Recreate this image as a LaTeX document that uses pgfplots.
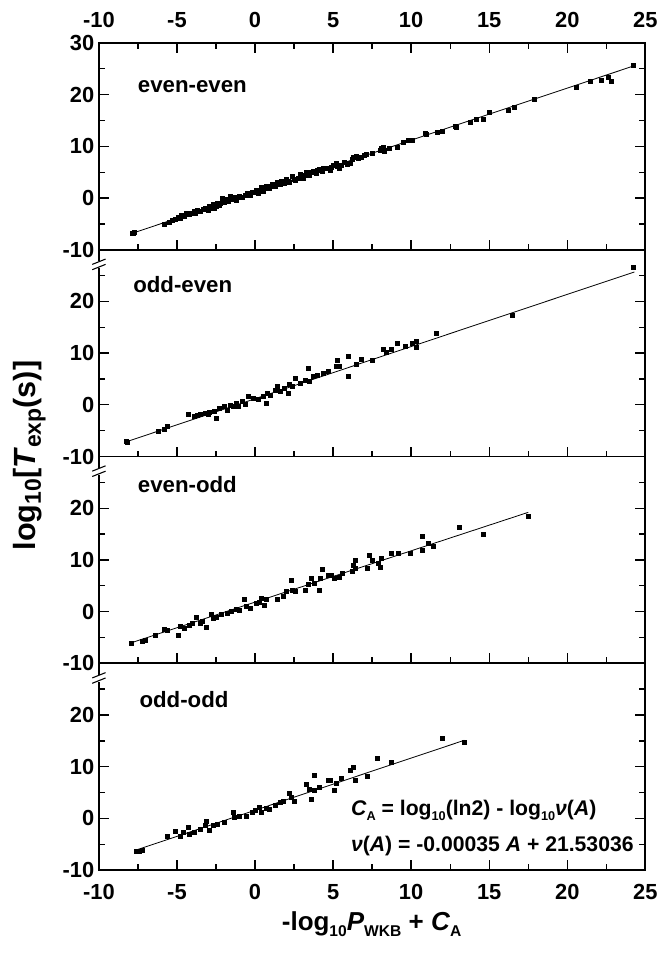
\documentclass[border=0pt]{standalone}
\usepackage{fontspec}
\setmainfont{Liberation Sans}
\usepackage{graphicx}
\usepackage{pgfplots}
\pgfplotsset{compat=1.18}
\newcommand\ticksfont{\fontsize{16.4}{18}\selectfont\bfseries}
\newcommand\panelfont{\fontsize{16.7}{18}\selectfont\bfseries}
\newcommand\sub[1]{\raisebox{-0.3ex}{\scalebox{0.75}{#1}}}
\newcommand\subs[1]{\raisebox{-0.45ex}{\scalebox{0.6}{#1}}}
\pgfplotsset{
  panel/.style={
    scale only axis, width=410.25pt, height=155.25pt,
    anchor=south west, clip=false,
    xmin=-10, xmax=25, ymin=-10, ymax=30,
    xtick={-10,-5,...,25}, minor xtick={-7.5,-2.5,2.5,7.5,12.5,17.5,22.5},
    ytick pos=both, yticklabel pos=left,
    axis line style={line width=1.3pt},
    major tick length=7.5pt, minor tick length=4.5pt,
    tick style={black, line width=1pt},
    tick label style={font=\ticksfont},
    /pgf/number format/assume math mode=true,
  },
  pts/.style={only marks, mark=square*, mark size=1.5pt, black},
  fit/.style={no marks, black, line width=0.6pt},
}
\newcommand\breakmark{%
  \draw[white, line width=3pt] ([yshift=-8.5pt]rel axis cs:0,1) -- ([yshift=-14pt]rel axis cs:0,1);
  \draw[black, line width=0.8pt] ([xshift=-5pt,yshift=-11pt]rel axis cs:0,1) -- ([xshift=5pt,yshift=-7pt]rel axis cs:0,1);
  \draw[black, line width=0.8pt] ([xshift=-5pt,yshift=-15pt]rel axis cs:0,1) -- ([xshift=5pt,yshift=-11pt]rel axis cs:0,1);
}
\begin{document}
\begin{tikzpicture}
% ---------- panel 1: even-even
\begin{axis}[panel, at={(0,465.75pt)},
  ytick={-10,0,10,20,30}, minor ytick={-5,5,15,25},
  xtick pos=both, xticklabel pos=upper,
  xticklabel style={yshift=8pt}]
\addplot[fit] coordinates {(-7.8,-6.75) (24.2,25.5)};
\addplot[pts] table {
x y
-7.8 -6.75
-7.75 -6.6
-7.85 -6.9
-5.8 -5.0
-5.5 -4.6
-5.3 -4.3
-5.1 -4.1
-4.9 -3.7
-4.8 -4.0
-4.7 -3.3
-4.5 -3.6
-4.4 -2.9
-4.2 -3.2
-4.1 -2.9
-3.9 -2.6
-3.8 -3.0
-3.7 -2.3
-3.5 -2.5
-3.3 -2.1
-3.2 -1.9
-3.0 -2.3
-2.9 -1.6
-2.8 -2.0
-2.7 -1.3
-2.6 -1.9
-2.5 -1.5
-2.4 -0.97
-2.3 -1.4
-2.2 -1.0
-2.1 0.0
-2.0 -0.8
-1.9 -0.4
-1.8 -0.3
-1.7 -0.7
-1.6 0.3
-1.5 -0.2
-1.4 0.1
-1.3 0.0
-1.2 -0.4
-1.1 0.1
-1.0 0.3
-0.8 0.2
-0.6 0.5
-0.5 1.0
-0.3 0.6
-0.2 1.2
0.0 1.1
0.1 1.6
0.2 1.0
0.3 1.5
0.4 2.0
0.5 1.4
0.6 1.8
0.7 2.2
0.9 1.8
1.0 2.3
1.1 2.6
1.3 2.2
1.4 3.0
1.5 2.7
1.6 2.6
1.7 3.2
1.9 2.9
2.0 3.6
2.1 3.3
2.2 3.1
2.4 4.2
2.5 3.7
2.6 3.5
2.8 3.9
2.9 4.6
3.1 3.9
3.2 4.4
3.3 5.0
3.5 4.5
3.6 4.9
3.7 5.2
3.9 4.8
4.0 5.3
4.1 5.6
4.3 5.2
4.4 5.7
4.6 5.8
4.8 5.4
4.9 6.0
5.0 6.3
5.2 6.8
5.3 6.2
5.4 5.8
5.5 6.3
5.7 7.0
5.9 6.6
6.1 6.8
6.2 7.5
6.3 7.8
6.5 8.0
6.6 7.6
6.8 7.8
7.0 8.2
7.1 8.5
7.5 8.7
8.0 9.3
8.1 9.7
8.2 9.9
8.3 9.1
8.6 9.7
9.1 9.9
9.5 10.7
9.8 11.1
10.1 11.2
10.9 12.6
11.0 12.4
11.7 12.8
12.0 13.0
12.8 13.8
12.9 13.6
13.8 14.7
14.2 15.3
14.6 15.3
15.0 16.5
16.2 17.0
16.6 17.6
17.9 19.2
20.6 21.5
21.5 22.6
22.2 22.8
22.6 23.4
22.8 22.6
24.2 25.7
};
\node[anchor=base west, font=\panelfont] at (axis cs:-7.8,20.5) {even-even};
\end{axis}
% ---------- panel 2: odd-even
\begin{axis}[panel, at={(0,310.5pt)},
  ytick={-10,0,10,20}, minor ytick={-5,5,15,25},
  xtick pos=lower, xticklabels={}]
\addplot[fit] coordinates {(-8.2,-7.1) (24.3,25.7)};
\addplot[pts] table {
x y
-8.23 -7.1
-8.2 -7.3
-6.2 -5.2
-5.8 -4.8
-5.6 -4.2
-4.3 -1.8
-3.9 -2.3
-3.7 -2.0
-3.5 -1.9
-3.2 -1.6
-3.0 -1.9
-2.9 -1.5
-2.6 -1.3
-2.5 -2.6
-2.3 -0.6
-2.0 -0.3
-1.8 -1.0
-1.6 0.0
-1.4 -0.3
-1.2 0.3
-1.1 -0.3
-0.8 0.6
-0.6 0.2
-0.45 1.6
-0.13 1.3
0.2 1.0
0.5 1.6
0.7 0.3
0.8 2.3
1.0 1.9
1.3 2.9
1.4 3.5
1.6 2.6
1.9 3.2
2.1 2.3
2.2 3.9
2.4 3.5
2.6 5.2
2.9 4.2
3.2 4.8
3.4 7.1
3.5 4.5
3.7 5.5
4.0 5.8
4.35 6.1
4.7 6.5
5.2 7.4
5.3 8.6
5.4 7.4
6.0 5.5
6.0 9.3
6.5 7.8
6.8 8.8
7.5 8.6
8.2 10.7
8.4 10.1
8.7 10.7
9.1 12.0
9.6 11.3
10.1 12.0
10.3 12.2
10.3 11.1
11.6 13.8
16.5 17.3
24.2 26.7
};
\node[anchor=base west, font=\panelfont] at (axis cs:-8.1,21.7) {odd-even};
\breakmark
\end{axis}
% ---------- panel 3: even-odd
\begin{axis}[panel, at={(0,155.25pt)},
  ytick={-10,0,10,20}, minor ytick={-5,5,15,25},
  xtick pos=lower, xticklabels={}]
\addplot[fit] coordinates {(-8.0,-6.1) (17.5,19.2)};
\addplot[pts] table {
x y
-7.95 -6.1
-7.2 -5.8
-7.0 -5.5
-6.4 -4.5
-5.8 -3.5
-5.6 -3.7
-4.9 -4.5
-4.8 -2.9
-4.5 -3.2
-4.2 -2.6
-4.0 -2.3
-3.75 -1.0
-3.5 -2.3
-3.4 -1.9
-3.1 -3.0
-2.8 -0.6
-2.7 -1.3
-2.5 -1.0
-2.15 -0.6
-1.8 -0.3
-1.5 0.0
-1.2 0.45
-1.0 0.3
-0.7 2.3
-0.55 1.0
-0.3 0.65
0.1 1.6
0.3 1.9
0.4 2.6
0.6 1.3
0.7 2.3
1.4 2.4
1.8 2.9
2.0 3.9
2.3 6.1
2.4 4.2
2.6 3.9
3.2 4.2
3.4 5.2
3.6 6.5
3.8 5.5
4.1 4.2
4.2 6.5
4.3 8.1
4.7 7.1
4.9 7.0
5.1 6.4
5.4 6.6
5.6 7.4
6.2 7.8
6.3 9.0
6.4 9.9
6.4 8.4
7.2 8.4
7.3 10.9
7.5 9.9
7.9 9.3
8.0 8.6
8.1 10.3
8.7 11.3
9.2 11.3
9.95 11.3
10.7 11.9
10.7 14.6
11.1 13.2
11.4 12.6
13.1 16.3
14.6 14.95
17.5 18.4
};
\node[anchor=base west, font=\panelfont] at (axis cs:-7.8,23.0) {even-odd};
\breakmark
\end{axis}
% ---------- panel 4: odd-odd
\begin{axis}[panel, at={(0,0)},
  ytick={-10,0,10,20}, minor ytick={-5,5,15,25},
  xtick pos=lower, xticklabel pos=lower,
  xticklabel style={yshift=-7pt}]
\addplot[fit] coordinates {(-7.6,-6.1) (13.4,15.1)};
\addplot[pts] table {
x y
-7.6 -6.3
-7.4 -6.3
-7.2 -6.1
-5.6 -3.4
-5.1 -2.4
-4.8 -3.5
-4.6 -2.7
-4.3 -1.7
-4.2 -3.0
-3.9 -2.7
-3.5 -2.1
-3.2 -1.4
-3.1 -0.6
-2.9 -2.3
-2.7 -1.4
-2.4 -1.1
-2.0 -0.8
-1.4 1.2
-1.3 0.2
-1.0 0.5
-0.55 0.5
-0.2 1.2
0.0 1.5
0.3 2.1
0.4 1.2
0.7 2.0
0.9 1.8
1.3 2.5
1.6 3.1
1.8 3.4
2.2 4.8
2.3 4.1
2.5 3.4
3.3 6.6
3.5 5.7
3.6 3.7
3.8 8.3
3.8 5.4
4.1 6.0
4.7 7.3
4.8 7.4
5.1 5.5
5.2 6.8
5.5 7.8
6.1 9.3
6.3 9.9
6.4 7.4
7.2 8.2
7.85 11.7
8.75 10.9
12.0 15.5
13.4 14.8
};
\node[anchor=base west, font=\panelfont] at (axis cs:-7.7,21.5) {odd-odd};
\node[anchor=base west, font=\fontsize{15.9}{17}\selectfont\bfseries] at (axis cs:5.85,0.64)
  {\textit{C}\subs{A} = log\subs{10}(ln2) - log\subs{10}\textit{ν}(\textit{A})};
\node[anchor=base west, font=\fontsize{15.9}{17}\selectfont\bfseries] at (axis cs:5.85,-6.5)
  {\textit{ν}(\textit{A}) = -0.00035 \textit{A} + 21.53036};
\breakmark
\end{axis}
% ---------- axis titles
\node[rotate=90, anchor=center, font=\fontsize{23}{25}\selectfont\bfseries] at (-52pt,311.25pt)
  {log\sub{10}[\textit{T}\sub{exp}(s)]};
\node[anchor=base, font=\fontsize{19.5}{21}\selectfont\bfseries] at (204.75pt,-45pt)
  {-log\subs{10}\textit{P}\subs{WKB} + \textit{C}\subs{A}};
\pgfresetboundingbox
\path[use as bounding box] (-74.25pt,-62.25pt) rectangle (420pt,653.25pt);
\end{tikzpicture}
\end{document}
